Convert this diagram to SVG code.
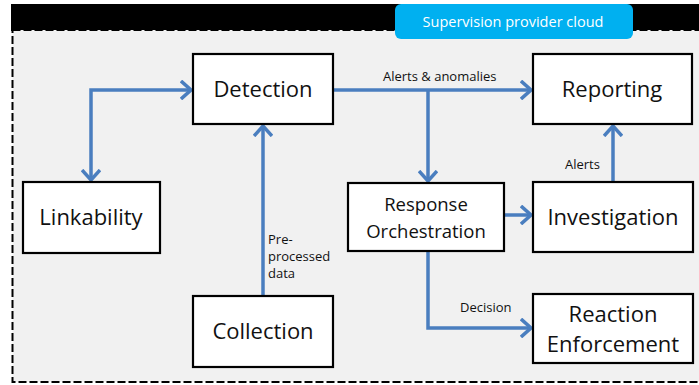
<svg xmlns="http://www.w3.org/2000/svg" width="699" height="385" viewBox="0 0 699 385">
<defs>
<style>
.box{fill:#fff;stroke:#000;stroke-width:2.2}
.lbl{font-family:"Open Sans","Liberation Sans",sans-serif;font-size:22px;fill:#111;text-anchor:middle}
.lbl2{font-family:"Open Sans","Liberation Sans",sans-serif;font-size:18.5px;fill:#111;text-anchor:middle}
.sm{font-family:"Open Sans","Liberation Sans",sans-serif;font-size:13px;fill:#111}
.conn{fill:none;stroke:#4a7ebf;stroke-width:3.5}
</style>
<marker id="ah" viewBox="0 0 12 20" refX="11" refY="10" markerWidth="12" markerHeight="20" markerUnits="userSpaceOnUse" orient="auto-start-reverse">
<path d="M1,1 L11,10 L1,19" fill="none" stroke="#4a7ebf" stroke-width="3.5"/>
</marker>
</defs>
<rect x="0" y="0" width="699" height="385" fill="#fff"/>
<rect x="11" y="4" width="688" height="27" fill="#000"/>
<rect x="12.5" y="30" width="700" height="352" fill="#f1f1f1" stroke="#000" stroke-width="2" stroke-dasharray="8 3"/>
<g id="badge">
<rect x="395" y="4" width="238" height="35" rx="6" fill="#00b0f0"/>
<text x="513" y="27" font-family="'Open Sans','Liberation Sans',sans-serif" font-size="14.5" fill="#fff" text-anchor="middle">Supervision provider cloud</text>
</g>
<g id="connectors">
<path class="conn" d="M333,90 H531" marker-end="url(#ah)"/>
<path class="conn" d="M428,90 V181" marker-end="url(#ah)"/>
<path class="conn" d="M504,215 H531" marker-end="url(#ah)"/>
<path class="conn" d="M613,182 V126" marker-end="url(#ah)"/>
<path class="conn" d="M428,251 V328 H531" marker-end="url(#ah)"/>
<path class="conn" d="M263,296 V126" marker-end="url(#ah)"/>
<path class="conn" d="M191,90 H91 V180" marker-start="url(#ah)" marker-end="url(#ah)"/>
<text class="sm" x="383" y="81">Alerts &amp; anomalies</text>
<text class="sm" x="565" y="169">Alerts</text>
<text class="sm" x="460" y="312">Decision</text>
<text class="sm" x="268" y="244">Pre-</text>
<text class="sm" x="268" y="261">processed</text>
<text class="sm" x="268" y="278">data</text>
</g>
<g id="detection"><rect class="box" x="193" y="54" width="140" height="70"/><text class="lbl" x="263" y="97">Detection</text></g>
<g id="reporting"><rect class="box" x="533" y="54" width="159" height="70"/><text class="lbl" x="612" y="97">Reporting</text></g>
<g id="linkability"><rect class="box" x="23" y="182" width="137" height="71"/><text class="lbl" x="91" y="225">Linkability</text></g>
<g id="response"><rect class="box" x="348" y="183" width="156" height="68"/><text class="lbl2" x="426" y="211">Response</text><text class="lbl2" x="426" y="238">Orchestration</text></g>
<g id="investigation"><rect class="box" x="533" y="182" width="160" height="70"/><text class="lbl" x="613" y="225">Investigation</text></g>
<g id="collection"><rect class="box" x="193" y="296" width="140" height="71"/><text class="lbl" x="263" y="339">Collection</text></g>
<g id="reaction"><rect class="box" x="533" y="294" width="160" height="69"/><text class="lbl" x="613" y="322">Reaction</text><text class="lbl" x="613" y="352">Enforcement</text></g>
</svg>
